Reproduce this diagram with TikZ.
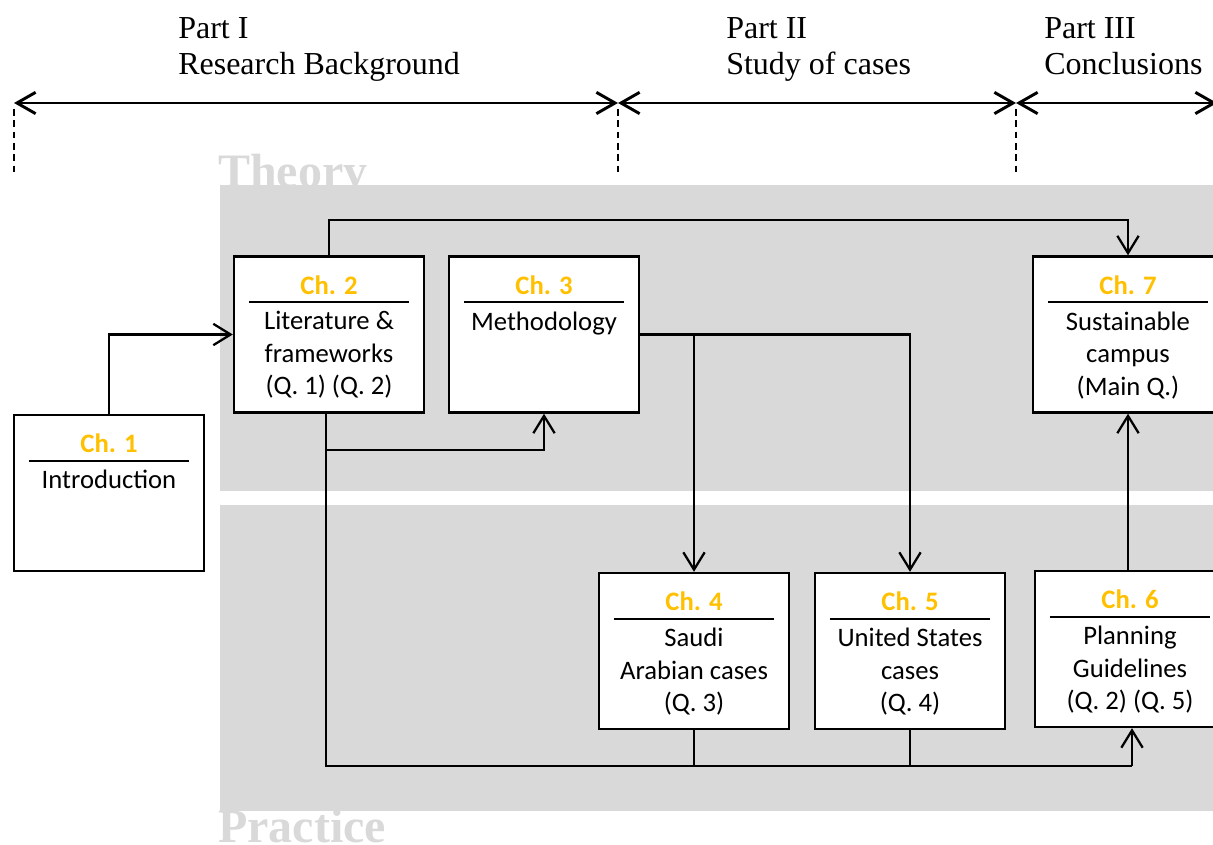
\documentclass[tikz,border=0pt]{standalone}
\usepackage{fontspec}
\setmainfont{Liberation Serif}
\newfontfamily\boxfont{Carlito}
\usetikzlibrary{arrows.meta,calc}
\definecolor{bandgray}{HTML}{D9D9D9}
\definecolor{chgold}{HTML}{FFC000}

% one chapter box: name, centre, chapter number, body text
\newcommand{\chapterbox}[4]{%
  \node[chbox] (#1) at (#2) {};
  \node[chtitle] (#1-t) at ($(#1.north)+(0,29.5)$) {Ch. #3};
  \draw[divider] ($(#1.north west)+(16,47)$) -- ($(#1.north east)+(-16,47)$);
  \node[chbody] (#1-b) at ($(#1.north)+(0,56)$) {#4};
}

\begin{document}
\begin{tikzpicture}[x=0.75pt,y=-0.75pt,
  chbox/.style={draw=black,line width=1.8pt,fill=white,minimum width=142.5pt,minimum height=117pt,inner sep=0pt},
  chtitle/.style={font=\boxfont\bfseries\fontsize{20}{24}\selectfont,text=chgold,inner sep=0pt},
  chbody/.style={font=\boxfont\fontsize{20}{24.4}\selectfont,align=center,inner sep=0pt,anchor=north},
  divider/.style={line width=1.5pt},
  conn/.style={line width=1.7pt},
  arr/.style={conn,-{Straight Barb[length=13pt,width=16pt]}},
  axis/.style={line width=2.2pt,{Straight Barb[length=14pt,width=16pt]}-{Straight Barb[length=14pt,width=16pt]}},
  guide/.style={line width=0.9pt,dash pattern=on 5pt off 3.5pt},
  part/.style={font=\fontsize{24}{27}\selectfont,inner sep=0pt,anchor=base west},
  band/.style={font=\bfseries\fontsize{36}{36}\selectfont,text=bandgray,inner sep=0pt,anchor=base west}
]
\path[use as bounding box] (0,0) rectangle (1213,845);
\clip (0,0) rectangle (1213,845);

% band titles, partly hidden under the bands
\node[band] (theory) at (218,187) {Theory};
\node[band] (practice) at (218,842) {Practice};

% theory and practice bands
\fill[bandgray] (220,185) rectangle (1240,491);
\fill[bandgray] (220,505) rectangle (1240,811);

% parts of the thesis
\node[part] (p1a) at (178,39) {Part I};
\node[part] (p1b) at (178,75) {Research Background};
\node[part] (p2a) at (726,39) {Part II};
\node[part] (p2b) at (726,75) {Study of cases};
\node[part] (p3a) at (1044,39) {Part III};
\node[part] (p3b) at (1044,75) {Conclusions};

\coordinate (a0) at (14,103);
\coordinate (a1) at (618,103);
\coordinate (a2) at (1016,103);
\coordinate (a3) at (1217,103);
\draw[axis] (a0) -- (a1);
\draw[axis] (a1) -- (a2);
\draw[axis] (a2) -- (a3);
\foreach \p in {a0,a1,a2}
  \draw[guide] ($(\p)+(0,6)$) -- ($(\p)+(0,72)$);

% chapters
\chapterbox{c1}{109,493}{1}{Introduction}
\chapterbox{c2}{329,334.5}{2}{Literature \&\\frameworks\\(Q. 1) (Q. 2)}
\chapterbox{c3}{544,334.5}{3}{Methodology}
\chapterbox{c7}{1128,334.5}{7}{Sustainable\\campus\\(Main Q.)}
\chapterbox{c4}{694,651}{4}{Saudi\\Arabian cases\\(Q. 3)}
\chapterbox{c5}{910,651}{5}{United States\\cases\\(Q. 4)}
\chapterbox{c6}{1130,649}{6}{Planning\\Guidelines\\(Q. 2) (Q. 5)}

% connectors
\coordinate (bus) at (0,766);
\coordinate (c2out) at ($(c2.south)+(-3,0)$);
\coordinate (c6in) at ($(c6.south)+(2,0)$);
\coordinate (j1) at ($(c2out)+(0,36)$);

\draw[arr] (c1.north) |- (c2.west);
\draw[arr] (c2.north) -- ++(0,-35) -| (c7.north);
\draw[conn] (c2out) -- (c2out |- bus) -- (c6in |- bus);
\draw[arr] (c6in |- bus) -- (c6in);
\draw[arr] (j1) -| (c3.south);
\draw[arr] (c3.east) -| (c5.north);
\draw[arr] (c3.east -| c4.north) -- (c4.north);
\draw[conn] (c4.south) -- (c4.south |- bus);
\draw[conn] (c5.south) -- (c5.south |- bus);
\draw[arr] (c6.north -| c7.south) -- (c7.south);
\end{tikzpicture}
\end{document}
